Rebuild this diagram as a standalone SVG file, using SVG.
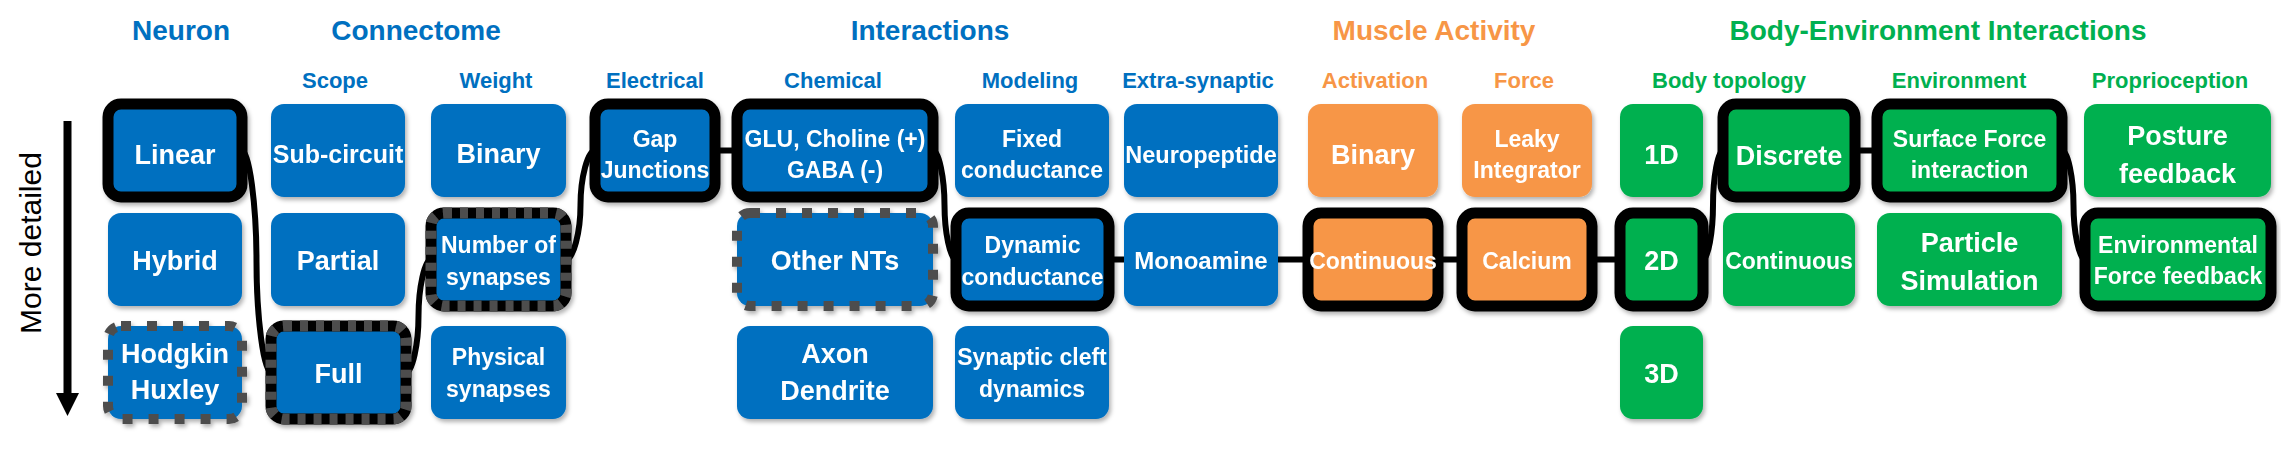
<svg xmlns="http://www.w3.org/2000/svg" width="2281" height="456" viewBox="0 0 2281 456">
<style>
text{font-family:"Liberation Sans",Arial,sans-serif;font-weight:bold;text-anchor:middle}
.b{fill:#0070C0}.o{fill:#F79646}.g{fill:#00B050}
.tb{fill:#0070C0}.to{fill:#F79646}.tg{fill:#00B050}
.h1{font-size:28px}.h2{font-size:22px}
.w{fill:#fff}.L{font-size:27px}.S{font-size:23px}
.sel{fill:none;stroke:#000;stroke-width:11}
.dot{fill:none;stroke:#4d4d4d;stroke-width:10;stroke-dasharray:10 16}
.seld{fill:none;stroke:#4d4d4d;stroke-width:11;stroke-dasharray:8 8}
.conn{fill:none;stroke:#000;stroke-width:6}
.n{filter:url(#sh)}
</style>
<defs>
<filter id="sh" x="-10%" y="-10%" width="120%" height="130%">
<feDropShadow dx="2" dy="3" stdDeviation="2" flood-color="#000" flood-opacity="0.3"/>
</filter>
</defs>
<rect width="2281" height="456" fill="#fff"/>

<g id="headers">
<text class="tb h1" x="181" y="40">Neuron</text>
<text class="tb h1" x="416" y="40">Connectome</text>
<text class="tb h1" x="930" y="40">Interactions</text>
<text class="to h1" x="1434" y="40">Muscle Activity</text>
<text class="tg h1" x="1938" y="40">Body-Environment Interactions</text>
<text class="tb h2" x="335" y="88">Scope</text>
<text class="tb h2" x="496" y="88">Weight</text>
<text class="tb h2" x="655" y="88">Electrical</text>
<text class="tb h2" x="833" y="88">Chemical</text>
<text class="tb h2" x="1030" y="88">Modeling</text>
<text class="tb h2" x="1198" y="88">Extra-synaptic</text>
<text class="to h2" x="1375" y="88">Activation</text>
<text class="to h2" x="1524" y="88">Force</text>
<text class="tg h2" x="1729" y="88">Body topology</text>
<text class="tg h2" x="1959" y="88">Environment</text>
<text class="tg h2" x="2170" y="88">Proprioception</text>
</g>

<g id="axis">
<line x1="67.5" y1="121" x2="67.5" y2="396" stroke="#000" stroke-width="8"/>
<polygon points="56,393 79,393 67.5,416" fill="#000"/>
<text x="0" y="0" transform="translate(41,243) rotate(-90)" style="font-weight:normal;font-size:30px;fill:#000">More detailed</text>
</g>

<g id="connectors">
<path class="conn" d="M242,150.5 C249.25,150.5 256.5,206 256.5,261.5 C256.5,317 263.75,372.5 271,372.5"/>
<path class="conn" d="M406,372.5 C412.25,372.5 418.5,344.25 418.5,316 C418.5,287.75 424.75,259.5 431,259.5"/>
<path class="conn" d="M566,259.5 C573.25,259.5 580.5,232.25 580.5,205 C580.5,177.75 587.75,150.5 595,150.5"/>
<path class="conn" d="M715,150.5 H737"/>
<path class="conn" d="M933,150.5 C938.75,150.5 944.5,177.75 944.5,205 C944.5,232.25 950.25,259.5 956,259.5"/>
<path class="conn" d="M1109,259.5 H1124"/>
<path class="conn" d="M1278,259.5 H1308"/>
<path class="conn" d="M1438,259.5 H1462"/>
<path class="conn" d="M1592,259.5 H1620"/>
<path class="conn" d="M1703,259.5 C1708,259.5 1713,232.25 1713,205 C1713,177.75 1718,150.5 1723,150.5"/>
<path class="conn" d="M1855,150.5 H1877"/>
<path class="conn" d="M2062,150.5 C2067.75,150.5 2073.5,177.75 2073.5,205 C2073.5,232.25 2079.25,259.5 2085,259.5"/>
</g>

<!-- Neuron -->
<g id="linear" class="n"><rect class="b" x="108" y="104" width="134" height="93" rx="13"/><rect class="sel" x="108" y="104" width="134" height="93" rx="13"/><text class="w L" x="175" y="164">Linear</text></g>
<g id="hybrid" class="n"><rect class="b" x="108" y="213" width="134" height="93" rx="13"/><text class="w L" x="175" y="270">Hybrid</text></g>
<g id="hodgkin" class="n"><rect class="b" x="108" y="326" width="134" height="93" rx="13"/><rect class="dot" x="108" y="326" width="134" height="93" rx="13"/><text class="w L" x="175" y="363">Hodgkin</text><text class="w L" x="175" y="399">Huxley</text></g>

<!-- Scope -->
<g id="subcircuit" class="n"><rect class="b" x="271" y="104" width="134" height="93" rx="13"/><text class="w" style="font-size:25px" x="338" y="163">Sub-circuit</text></g>
<g id="partial" class="n"><rect class="b" x="271" y="213" width="134" height="93" rx="13"/><text class="w L" x="338" y="270">Partial</text></g>
<g id="full" class="n"><rect class="b" x="271" y="326" width="135" height="93" rx="13"/><rect class="sel" x="271" y="326" width="135" height="93" rx="13"/><rect class="seld" x="271" y="326" width="135" height="93" rx="13"/><text class="w L" x="338.5" y="383">Full</text></g>

<!-- Weight -->
<g id="binary" class="n"><rect class="b" x="431" y="104" width="135" height="93" rx="13"/><text class="w L" x="498.5" y="163">Binary</text></g>
<g id="nsyn" class="n"><rect class="b" x="431" y="213" width="135" height="93" rx="13"/><rect class="sel" x="431" y="213" width="135" height="93" rx="13"/><rect class="seld" x="431" y="213" width="135" height="93" rx="13"/><text class="w S" x="498.5" y="253">Number of</text><text class="w S" x="498.5" y="285">synapses</text></g>
<g id="physical" class="n"><rect class="b" x="431" y="326" width="135" height="93" rx="13"/><text class="w S" x="498.5" y="365">Physical</text><text class="w S" x="498.5" y="397">synapses</text></g>

<!-- Electrical -->
<g id="gap" class="n"><rect class="b" x="595" y="104" width="120" height="93" rx="13"/><rect class="sel" x="595" y="104" width="120" height="93" rx="13"/><text class="w S" x="655" y="147">Gap</text><text class="w S" x="655" y="178">Junctions</text></g>

<!-- Chemical -->
<g id="glu" class="n"><rect class="b" x="737" y="104" width="196" height="93" rx="13"/><rect class="sel" x="737" y="104" width="196" height="93" rx="13"/><text class="w S" x="835" y="147">GLU, Choline (+)</text><text class="w S" x="835" y="178">GABA (-)</text></g>
<g id="otherNT" class="n"><rect class="b" x="737" y="213" width="196" height="93" rx="13"/><rect class="dot" x="737" y="213" width="196" height="93" rx="13"/><text class="w L" x="835" y="270">Other NTs</text></g>
<g id="axon" class="n"><rect class="b" x="737" y="326" width="196" height="93" rx="13"/><text class="w L" x="835" y="363">Axon</text><text class="w L" x="835" y="400">Dendrite</text></g>

<!-- Modeling -->
<g id="fixed" class="n"><rect class="b" x="955" y="104" width="154" height="93" rx="13"/><text class="w S" x="1032" y="147">Fixed</text><text class="w S" x="1032" y="178">conductance</text></g>
<g id="dynamic" class="n"><rect class="b" x="956" y="213" width="153" height="93" rx="13"/><rect class="sel" x="956" y="213" width="153" height="93" rx="13"/><text class="w S" x="1032.5" y="253">Dynamic</text><text class="w S" x="1032.5" y="285">conductance</text></g>
<g id="cleft" class="n"><rect class="b" x="955" y="326" width="154" height="93" rx="13"/><text class="w S" x="1032" y="365">Synaptic cleft</text><text class="w S" x="1032" y="397">dynamics</text></g>

<!-- Extra-synaptic -->
<g id="neuropeptide" class="n"><rect class="b" x="1124" y="104" width="154" height="93" rx="13"/><text class="w" style="font-size:23.5px" x="1201" y="163">Neuropeptide</text></g>
<g id="monoamine" class="n"><rect class="b" x="1124" y="213" width="154" height="93" rx="13"/><text class="w" style="font-size:24px" x="1201" y="269">Monoamine</text></g>

<!-- Activation -->
<g id="actbinary" class="n"><rect class="o" x="1308" y="104" width="130" height="93" rx="13"/><text class="w L" x="1373" y="164">Binary</text></g>
<g id="actcont" class="n"><rect class="o" x="1308" y="213" width="130" height="93" rx="13"/><rect class="sel" x="1308" y="213" width="130" height="93" rx="13"/><text class="w S" x="1373" y="269">Continuous</text></g>

<!-- Force -->
<g id="leaky" class="n"><rect class="o" x="1462" y="104" width="130" height="93" rx="13"/><text class="w S" x="1527" y="147">Leaky</text><text class="w S" x="1527" y="178">Integrator</text></g>
<g id="calcium" class="n"><rect class="o" x="1462" y="213" width="130" height="93" rx="13"/><rect class="sel" x="1462" y="213" width="130" height="93" rx="13"/><text class="w S" x="1527" y="269">Calcium</text></g>

<!-- Body topology -->
<g id="d1" class="n"><rect class="g" x="1620" y="104" width="83" height="93" rx="13"/><text class="w L" x="1661.5" y="164">1D</text></g>
<g id="d2" class="n"><rect class="g" x="1620" y="213" width="83" height="93" rx="13"/><rect class="sel" x="1620" y="213" width="83" height="93" rx="13"/><text class="w L" x="1661.5" y="270">2D</text></g>
<g id="d3" class="n"><rect class="g" x="1620" y="326" width="83" height="93" rx="13"/><text class="w L" x="1661.5" y="383">3D</text></g>
<g id="discrete" class="n"><rect class="g" x="1723" y="104" width="132" height="93" rx="13"/><rect class="sel" x="1723" y="104" width="132" height="93" rx="13"/><text class="w L" x="1789" y="165">Discrete</text></g>
<g id="bodycont" class="n"><rect class="g" x="1723" y="213" width="132" height="93" rx="13"/><text class="w S" x="1789" y="269">Continuous</text></g>

<!-- Environment -->
<g id="surface" class="n"><rect class="g" x="1877" y="104" width="185" height="93" rx="13"/><rect class="sel" x="1877" y="104" width="185" height="93" rx="13"/><text class="w S" x="1969.5" y="147">Surface Force</text><text class="w S" x="1969.5" y="178">interaction</text></g>
<g id="particle" class="n"><rect class="g" x="1877" y="213" width="185" height="93" rx="13"/><text class="w L" x="1969.5" y="252">Particle</text><text class="w L" x="1969.5" y="290">Simulation</text></g>

<!-- Proprioception -->
<g id="posture" class="n"><rect class="g" x="2084" y="104" width="187" height="93" rx="13"/><text class="w L" x="2177.5" y="145">Posture</text><text class="w L" x="2177.5" y="183">feedback</text></g>
<g id="envforce" class="n"><rect class="g" x="2085" y="213" width="186" height="93" rx="13"/><rect class="sel" x="2085" y="213" width="186" height="93" rx="13"/><text class="w S" x="2178" y="253">Environmental</text><text class="w S" x="2178" y="284">Force feedback</text></g>
</svg>
